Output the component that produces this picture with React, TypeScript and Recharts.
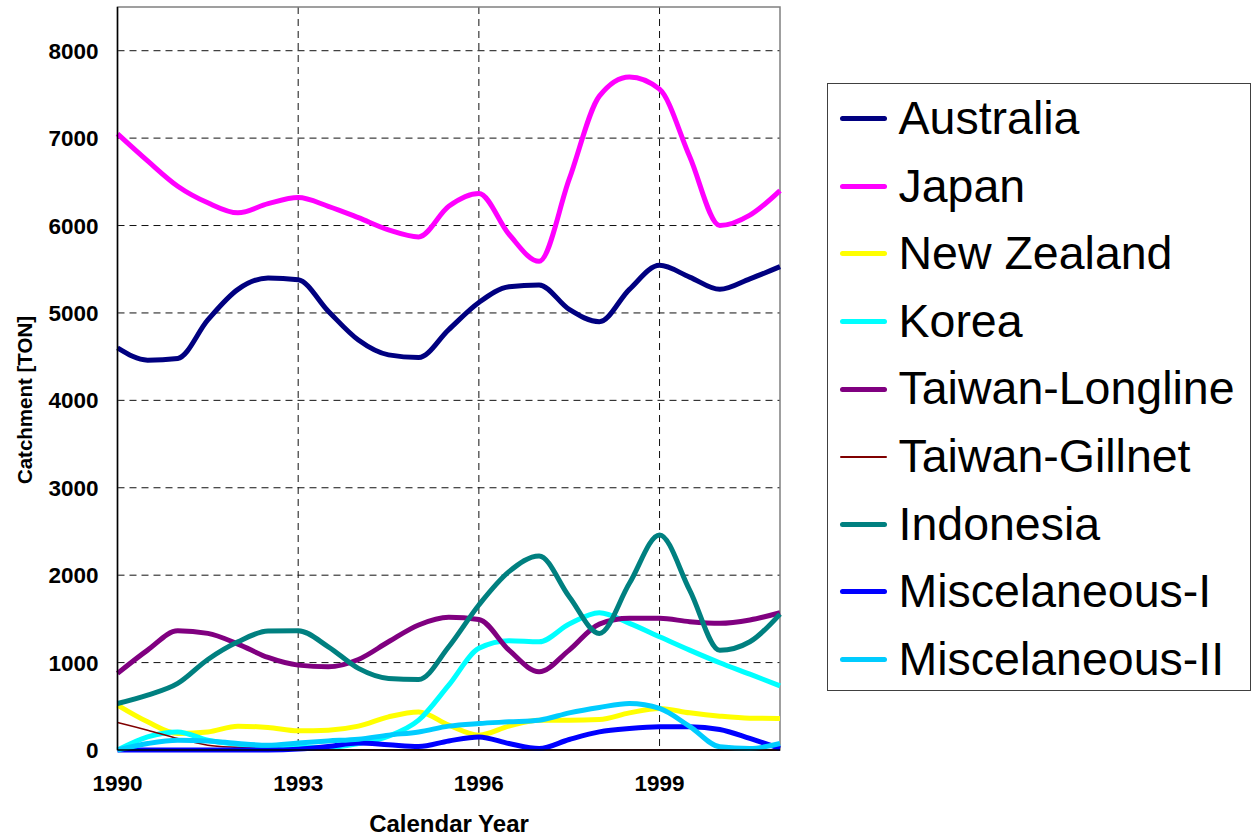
import React from "react";
import {
    LineChart,
    Line,
    XAxis,
    YAxis,
    CartesianGrid,
    Legend,
    ReferenceArea,
} from "recharts";

// half-year sampling points
const years = [
    1990, 1990.5, 1991, 1991.5, 1992, 1992.5, 1993, 1993.5, 1994, 1994.5, 1995,
    1995.5, 1996, 1996.5, 1997, 1997.5, 1998, 1998.5, 1999, 1999.5, 2000,
    2000.5, 2001,
];

const australia = [
    4600, 4460, 4480, 4920, 5270, 5400, 5380, 5020, 4690, 4520, 4490, 4810,
    5120, 5300, 5320, 5040, 4900, 5270, 5545, 5410, 5270, 5390, 5530,
];
const japan = [
    7050, 6740, 6450, 6260, 6145, 6250, 6320, 6220, 6090, 5950, 5870, 6220,
    6366, 5900, 5590, 6530, 7480, 7700, 7560, 6790, 6000, 6120, 6400,
];
const newZealand = [
    513, 322, 190, 207, 273, 258, 219, 227, 273, 379, 436, 284, 170, 273, 341,
    341, 349, 425, 475, 425, 387, 364, 361,
];
const korea = [
    0, 150, 207, 112, 66, 44, 28, 28, 74, 158, 341, 742, 1163, 1250, 1238, 1441,
    1570, 1449, 1296, 1143, 998, 868, 734,
];
const taiwanLongline = [
    876, 1143, 1364, 1334, 1212, 1059, 971, 952, 1036, 1238, 1430, 1518, 1494,
    1143, 895, 1143, 1441, 1506, 1506, 1468, 1449, 1487, 1570,
];
const taiwanGillnet = [
    315, 227, 132, 55, 28, 10, 0, 0, 0, 0, 0, 0, 0, 0, 0, 0, 0, 0, 0, 0, 0, 0,
    0,
];
const indonesia = [
    532, 628, 762, 1036, 1238, 1361, 1364, 1181, 934, 819, 807, 1181, 1659,
    2040, 2220, 1754, 1334, 1907, 2460, 1830, 1140, 1238, 1555,
];
const misc1 = [
    0, 0, 0, 0, 0, 0, 10, 40, 80, 60, 40, 104, 150, 74, 17, 120, 207, 246, 265,
    265, 235, 132, 17,
];
const misc2 = [
    0, 74, 112, 104, 74, 55, 81, 104, 124, 170, 207, 273, 303, 322, 341, 425,
    487, 532, 475, 270, 36, 17, 74,
];

const xTicks = [1990, 1993, 1996, 1999];
const yTicks = [0, 1000, 2000, 3000, 4000, 5000, 6000, 7000, 8000];

const series = [
    { key: "Australia", values: australia, color: "#000080", width: 5 },
    { key: "Japan", values: japan, color: "#FF00FF", width: 5 },
    { key: "New Zealand", values: newZealand, color: "#FFFF00", width: 5 },
    { key: "Korea", values: korea, color: "#00FFFF", width: 5 },
    { key: "Taiwan-Longline", values: taiwanLongline, color: "#800080", width: 5 },
    { key: "Taiwan-Gillnet", values: taiwanGillnet, color: "#800000", width: 1.5 },
    { key: "Indonesia", values: indonesia, color: "#008080", width: 5 },
    { key: "Miscelaneous-I", values: misc1, color: "#0000FF", width: 5 },
    { key: "Miscelaneous-II", values: misc2, color: "#00CCFF", width: 5 },
];

const data = years.map((year, i) => {
    const row: Record<string, number> = { year };
    series.forEach((s) => {
        row[s.key] = s.values[i];
    });
    return row;
});

const FONT = "'Liberation Sans', Arial, sans-serif";

function LegendBox() {
    return (
        <div
            style={{
                width: 424,
                height: 608,
                border: "1.5px solid #404040",
                boxSizing: "border-box",
                background: "#fff",
                paddingTop: 1,
            }}
        >
            {series.map((s) => (
                <div
                    key={s.key}
                    style={{
                        display: "flex",
                        alignItems: "center",
                        height: 67.6,
                    }}
                >
                    <span
                        style={{
                            display: "inline-block",
                            marginLeft: 11.5,
                            width: 47,
                            height: s.width > 2 ? 5 : 1.5,
                            borderRadius: 3,
                            background: s.color,
                        }}
                    />
                    <span
                        style={{
                            marginLeft: 12,
                            fontFamily: FONT,
                            fontSize: 46.5,
                            lineHeight: "67.6px",
                            color: "#000",
                            whiteSpace: "nowrap",
                        }}
                    >
                        {s.key}
                    </span>
                </div>
            ))}
        </div>
    );
}

export default function App() {
    return (
        <div style={{ position: "absolute", left: 0, top: 0, background: "#fff" }}>
            <LineChart
                width={1251}
                height={836}
                data={data}
                margin={{ top: 7, right: 471, left: 0, bottom: 0 }}
            >
                <CartesianGrid
                    stroke="#111"
                    strokeDasharray="7 5"
                    horizontalValues={yTicks}
                    verticalValues={xTicks}
                />
                <ReferenceArea
                    x1={1990}
                    x2={2001}
                    y1={0}
                    y2={8500}
                    fill="none"
                    stroke="#808080"
                    strokeWidth={1.5}
                />
                <XAxis
                    dataKey="year"
                    type="number"
                    domain={[1990, 2001]}
                    ticks={xTicks}
                    height={86}
                    tickLine={false}
                    tickSize={0}
                    tickMargin={25}
                    axisLine={{ stroke: "#000", strokeWidth: 1.5 }}
                    tick={{ fill: "#000", fontSize: 22.5, fontWeight: "bold", fontFamily: FONT }}
                    label={{
                        content: () => (
                            <text
                                x={449}
                                y={832}
                                textAnchor="middle"
                                fontSize={24}
                                fontWeight="bold"
                                fontFamily={FONT}
                                fill="#000"
                            >
                                Calendar Year
                            </text>
                        ),
                    }}
                />
                <YAxis
                    type="number"
                    domain={[0, 8500]}
                    ticks={yTicks}
                    width={117.5}
                    tickLine={false}
                    tickSize={0}
                    tickMargin={19}
                    axisLine={{ stroke: "#000", strokeWidth: 1.5 }}
                    tick={{ fill: "#000", fontSize: 22.5, fontWeight: "bold", fontFamily: FONT }}
                    label={{
                        content: () => (
                            <text
                                x={24}
                                y={400}
                                transform="rotate(-90, 24, 400)"
                                textAnchor="middle"
                                dominantBaseline="central"
                                fontSize={20.5}
                                fontWeight="bold"
                                fontFamily={FONT}
                                fill="#000"
                            >
                                Catchment [TON]
                            </text>
                        ),
                    }}
                />
                <Legend
                    layout="vertical"
                    align="center"
                    verticalAlign="middle"
                    wrapperStyle={{ left: 827, top: 83, width: 424, height: 608 }}
                    content={() => <LegendBox />}
                />
                {series.map((s) => (
                    <Line
                        key={s.key}
                        dataKey={s.key}
                        type="monotone"
                        stroke={s.color}
                        strokeWidth={s.width}
                        dot={false}
                        activeDot={false}
                        isAnimationActive={false}
                        strokeLinejoin="round"
                    />
                ))}
            </LineChart>
        </div>
    );
}
